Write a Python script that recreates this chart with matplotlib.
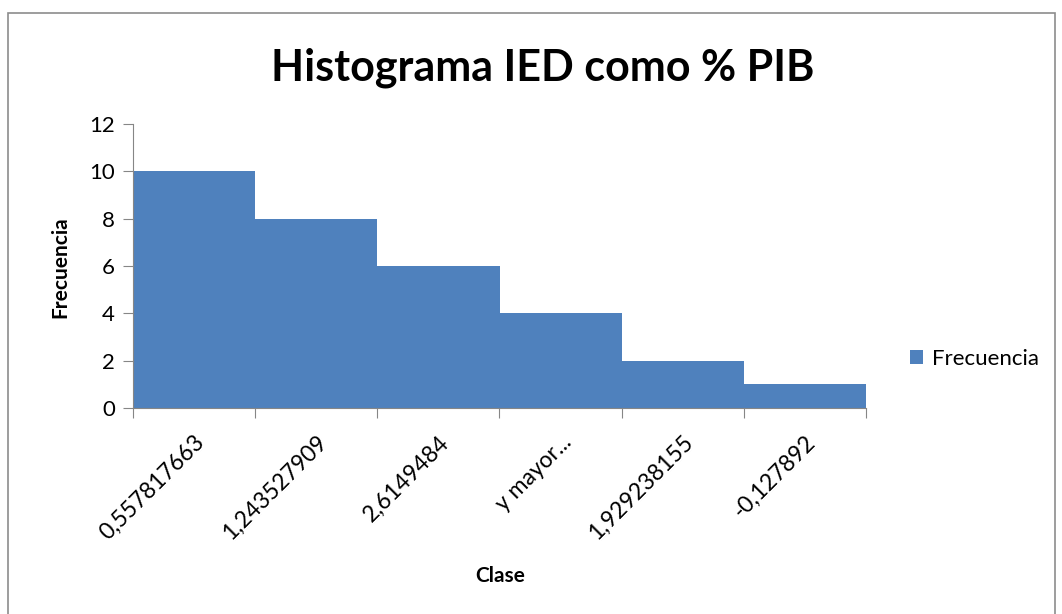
import matplotlib.pyplot as plt
from matplotlib.patches import Rectangle

# frecuencias por clase (histograma ordenado)
clases = ["0,557817663", "1,243527909", "2,6149484", "y mayor...", "1,929238155", "-0,127892"]
frecuencia = [10, 8, 6, 4, 2, 1]

plt.rcParams['font.family'] = ['Lato', 'DejaVu Sans']

fig = plt.figure(figsize=(10.62, 6.14), dpi=100)
ax = fig.add_axes([133 / 1062, 1 - 408 / 614, (866 - 133) / 1062, (408 - 124) / 614])

# marco gris del grafico
fig.patches.append(Rectangle((8 / 1062, -0.01), (1055 - 8) / 1062, 1 - 13 / 614 + 0.01,
                             transform=fig.transFigure, fill=False,
                             edgecolor="#8c8c8c", linewidth=1.2))

pos = range(len(clases))
ax.bar(pos, frecuencia, width=1.0, color="#4F81BD", label="Frecuencia")

ax.set_xlim(-0.5, len(clases) - 0.5)
ax.set_ylim(0, 12)
ax.set_yticks(range(0, 13, 2))
ax.tick_params(axis='y', labelsize=16, length=7, color="#868686", pad=6)

# marcas del eje x en los bordes de las barras, etiquetas en el centro
ax.set_xticks([p - 0.5 for p in range(len(clases) + 1)])
ax.set_xticklabels([])
ax.set_xticks(list(pos), minor=True)
ax.set_xticklabels(clases, minor=True, rotation=45, ha='right', rotation_mode='anchor', fontsize=16.5)
ax.tick_params(axis='x', which='major', length=7, color="#868686")
ax.tick_params(axis='x', which='minor', length=0, pad=17)

for s in ['top', 'right']:
    ax.spines[s].set_visible(False)
for s in ['left', 'bottom']:
    ax.spines[s].set_color("#868686")

fig.text(543 / 1062, 1 - 68 / 614, "Histograma IED como % PIB", ha='center', va='center',
         fontsize=31, fontweight='bold')
fig.text(60 / 1062, 1 - 267 / 614, "Frecuencia", rotation=90, ha='center', va='center',
         fontsize=15, fontweight='bold')
fig.text(500 / 1062, 1 - 576 / 614, "Clase", ha='center', va='center',
         fontsize=15, fontweight='bold')

fig.legend(loc='center left', bbox_to_anchor=(890 / 1062, 1 - 359 / 614), frameon=False,
           fontsize=16, handlelength=0.6, handleheight=0.6, handletextpad=0.4)

fig.savefig("out.png", dpi=100)
